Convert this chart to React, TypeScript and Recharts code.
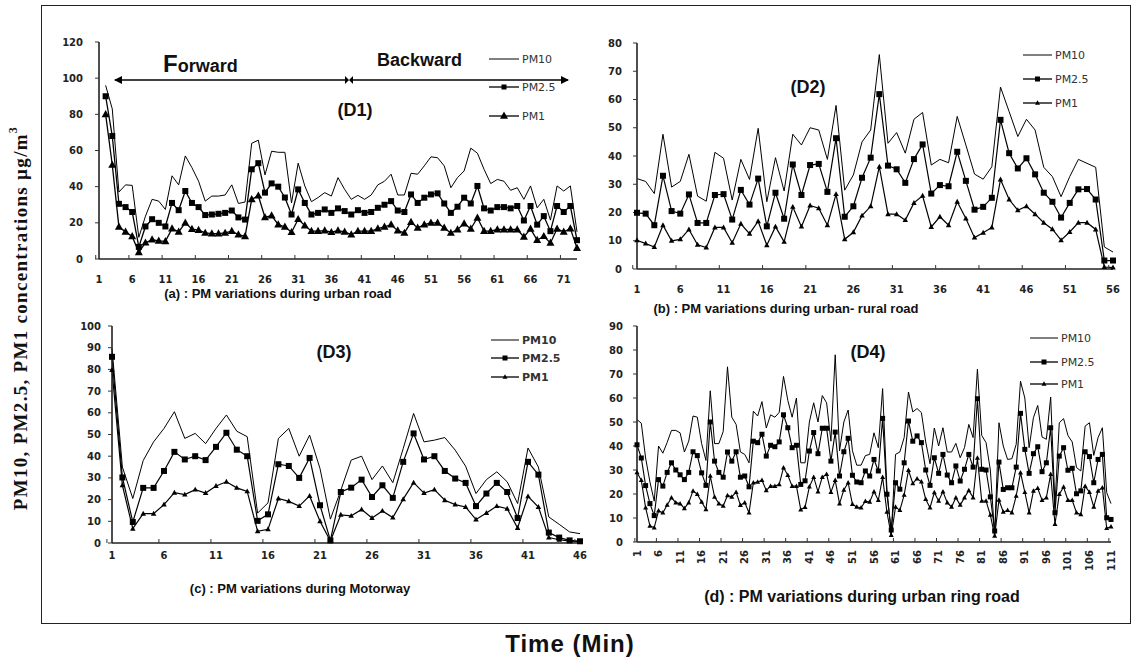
import React from 'react';
import { LineChart, Line, XAxis, YAxis } from 'recharts';

// ---------------- DATA ----------------
// (a) urban road, D1 : 73 minutes (first minute empty)
const d1Pm10 = [null, 96, 83, 37, 41, 40.7, 12, 23.7, 33, 32, 27.4, 46, 41, 57, 50.5, 43, 32, 34.8, 34.8, 35.4, 41, 30.7, 31.5, 64, 65.7, 46.5, 59.6, 59, 59, 31, 53, 40.4, 31.7, 34, 36.7,
  34.8, 45, 38.5, 33, 35.2, 33, 35.4, 41, 43, 46.9, 35.4, 35.4, 47.4, 46.9, 51.5, 56.5, 56, 51.5, 39.4, 45, 48.7, 61.3, 58.5, 49.6, 41.7, 44, 43, 38, 39.4, 33, 40.4, 28.3, 33, 21.5, 40.4, 37.6, 40.4, 15];
const d1Pm25 = [null, 90, 68, 30.5, 28.7, 26, 6.7, 18, 22, 20, 18, 31, 27, 37.6, 31, 28.7, 24.3, 24.6, 25, 25.5, 26.8, 23, 21.8, 49.6, 53, 36.7, 41.8, 40, 34, 24.6, 38.5, 31, 24.6, 25.5, 27.4,
  25.5, 28, 26.5, 24.6, 27, 25.5, 26, 28.3, 30, 32, 26.8, 26, 35.7, 31, 33.9, 35.7, 36.3, 30.7, 25.5, 28.9, 33.9, 30.7, 40.4, 28, 26.8, 28.7, 28.7, 28, 29.3, 21.3, 29.3, 19, 23.7, 15.4, 29.3, 26, 29.3, 10.4];
const d1Pm1 = [null, 80, 52, 17.8, 15, 12.5, 3.7, 9, 10.7, 10, 9.8, 16.8, 15, 20, 16.5, 16, 14.4, 14, 14, 14.4, 15.4, 13.5, 12.5, 33, 35, 23, 24, 19, 17.8, 14.8, 22, 18.5, 15.4, 15.4, 15.7,
  14.8, 15.7, 15, 13.5, 15.4, 15.4, 15.4, 16.8, 17.8, 19, 15.7, 14.4, 20.4, 17.2, 19, 20, 20, 17.2, 14.4, 16.3, 19.6, 16.7, 22.8, 15.4, 15.4, 16.3, 16.3, 16.3, 16.3, 12.2, 16.7, 10.4, 12.6, 8.9, 16.7, 15, 16.8, 6];

// (b) urban-rural road, D2 : 56 minutes
const d2Pm10 = [32, 31, 26.7, 47.7, 29, 31, 40.6, 25.8, 24, 41.3, 39.2, 24.4, 38.8, 31.7, 49.8, 23.8, 39.4, 27.6, 47.7, 43.9, 50, 49.2, 38.8, 57.9, 27.9, 33.3, 45, 49.2,
  75.9, 44.5, 48.3, 41, 53, 55.4, 36.8, 38.8, 37.6, 54, 43.9, 33.6, 31.8, 36.2, 64.4, 55.7, 46.9, 53, 49.2, 36, 32.7, 25.6, 32.7, 38.8, 37.4, 36, 7.8, 6];
const d2Pm25 = [19.9, 19.6, 15.5, 33, 20.5, 19.6, 26.4, 16.3, 16.3, 26.2, 26.5, 17.5, 28, 22.8, 32, 15.1, 27, 17.8, 37, 26.2, 36.8, 37.2, 27.3, 46.3, 18.5, 22.2, 32.3, 39.4,
  61.9, 36.6, 35.3, 30.5, 38.9, 44.1, 26.7, 29.7, 29.3, 41.5, 31.2, 21, 22, 25.2, 52.8, 41, 35.6, 39.2, 33.5, 27, 23.8, 18.2, 23.4, 28.2, 28.3, 24.6, 3, 3];
const d2Pm1 = [10.2, 9, 7.8, 15.5, 10, 10.5, 14, 8.6, 7.6, 14.7, 14.7, 9.3, 16, 12.5, 16.9, 8.4, 15, 9.6, 22, 15, 22.5, 21.5, 15.5, 26.5, 10.5, 13, 18.9, 22.2,
  36.2, 19.4, 19.4, 17.3, 23.4, 25.9, 14.9, 18.5, 15.5, 23.8, 17.9, 11.1, 12.8, 14.7, 31.7, 24.6, 20.8, 22.2, 19.4, 16.4, 14.1, 10.2, 13.1, 16.4, 16.4, 14, 0.7, 0.5];

// (c) motorway, D3 : 46 minutes
const d3Pm10 = [89.7, 35, 20.5, 38, 46.6, 52.8, 60.5, 48.2, 50.5, 45.8, 52.8, 59, 51.5, 49, 13.8, 18.5, 48.2, 52.8, 40, 49.7, 34.3,
  11, 24.3, 38.2, 40, 29.2, 35.5, 27.8, 43.5, 59.7, 46.6, 47.4, 48.6, 42.8, 35.4, 22.8, 29.2, 32.8, 28.2, 18.2, 43.8, 35, 12, 8.6, 5.1, 4.3];
const d3Pm25 = [85.8, 30.2, 9.7, 25.4, 25.4, 33.2, 42, 38.5, 40, 38.2, 44.3, 50.8, 43, 40, 10.2, 13.2, 36.3, 35.5, 30, 39.2, 17.4,
  1.2, 23.5, 25.5, 29.2, 21.2, 26.6, 20.8, 37.4, 50.5, 38.5, 40, 33.2, 29.7, 27.7, 17, 22.8, 27.7, 23.5, 11.5, 37.4, 31.5, 4.8, 2.5, 1.2, 0.8];
const d3Pm1 = [79.7, 26.6, 6.6, 13.5, 13.5, 17.7, 23.2, 22.3, 24.6, 23, 26.3, 28.2, 25.4, 23.8, 5.4, 6.3, 20.5, 19.2, 17, 21.7, 10,
  0.9, 13, 12.5, 15.4, 11.5, 14.8, 11.7, 20.2, 27.8, 23, 24.6, 19.7, 17.7, 16.6, 10.8, 13.8, 17, 15.8, 6.9, 21.5, 16.6, 2.5, 1.5, 0.9, 0.6];

// (d) urban ring road, D4 : 111 minutes
const d4Pm10 = [51, 49.5, 35, 25, 17, 40, 37, 41.5, 46.5, 46.5, 45.5, 37.5, 42, 52.5, 52, 41, 34, 63, 41, 41, 46, 73, 52, 49, 37.5, 36.5, 33, 54.5, 52.5, 58.5,
  47.5, 53, 52, 54, 69, 59, 52, 60, 33, 33, 50, 58, 50, 61, 58, 42, 78, 38, 50, 55, 38, 32, 32, 36,
  36.5, 45.5, 39.3, 63.9, 22, 3.2, 36.5, 37.5, 43.5, 62.5, 54.2, 55.6, 53.9, 41.7, 32.6, 47.5, 40, 47.6, 37.5, 37.5, 41.1, 35.1, 39.3, 49, 43.5,
  72, 44.4, 41.4, 30, 2.8, 49.7, 40, 34.4, 34.7, 40.7, 67, 60, 39.3, 51.8, 56.9, 43.75, 42.8, 60.4, 15.7, 49.7, 51.4, 44.4, 41.7, 31, 29.6, 48.3, 49.7, 36.1, 43.5, 47.6, 20.6, 16];
const d4Pm25 = [40.5, 35, 23.5, 16, 11, 26, 23.3, 29, 33, 30, 28, 26, 29, 37.6, 36, 28.8, 23.6, 50, 33.7, 29, 27, 37.5, 33.7, 37.6, 27, 27.5, 23, 42, 41.4, 44.9,
  35.8, 40.3, 39.7, 41.7, 53, 47.6, 39.3, 40.3, 24, 25.5, 37.9, 45.6, 36.8, 47.4, 47.4, 33.7, 45.8, 27.5, 37.6, 43.2, 27.8, 25, 24.7, 29.6,
  27.5, 34.4, 29.6, 51.5, 19.9, 5, 24.7, 22, 33, 50.4, 42, 44.2, 41.4, 30, 23.6, 35.1, 28.6, 36.5, 27.9, 24.7, 31.7, 25.4, 30.3, 36.5, 31.2,
  59.7, 30.3, 30, 18.8, 4.6, 33.3, 21.9, 22.6, 22.6, 31.2, 53.6, 38.6, 28.6, 36.8, 39.7, 29.3, 33, 47.6, 12.2, 35.8, 39.3, 29.9, 30.7, 20.1, 21.3, 37.6, 35.6, 24.7, 34.4, 36.5, 10.1, 9.4];
const d4Pm1 = [29, 25.7, 14.3, 6.7, 6, 13, 12.2, 15.4, 18.5, 16.4, 16, 14, 16.4, 21.3, 19.9, 16.7, 13.6, 27.5, 18.8, 16, 15, 19.4, 18.8, 20.8, 15.3, 16.4, 12.2, 24.7, 25, 25.7,
  21.5, 23.3, 23.3, 24, 31, 27.8, 23.3, 23.3, 13.5, 14.5, 23, 27, 21, 27, 28.2, 20.8, 25.7, 16, 21.7, 24.7, 15.7, 14.6, 14.3, 17,
  16.7, 21, 17.4, 27, 12.5, 2.8, 14.6, 13.2, 19.6, 29.9, 24.4, 26.4, 25.1, 17.8, 14.3, 20.6, 17.1, 21, 16.4, 14.6, 18.5, 15.4, 18.5, 21.5, 18.5,
  35, 17.1, 17.1, 11.25, 2.5, 17.5, 12.5, 13.2, 12.2, 19.2, 28.9, 20.8, 12.2, 21.3, 22.4, 17.4, 18.5, 28.2, 7.4, 19.9, 22.9, 17.4, 17.4, 12.2, 11.5, 23.3, 20.8, 14.6, 21.3, 22.6, 5.7, 6.4];

const d1YTicks = [0, 20, 40, 60, 80, 100, 120];
const d2YTicks = [0, 10, 20, 30, 40, 50, 60, 70, 80];
const d3YTicks = [0, 10, 20, 30, 40, 50, 60, 70, 80, 90, 100];
const d4YTicks = [0, 10, 20, 30, 40, 50, 60, 70, 80, 90];

const seriesNames = ['PM10', 'PM2.5', 'PM1'];
const subtitles = [
  '(a) : PM variations during urban road',
  '(b) : PM variations during urban- rural road',
  '(c) : PM variations during Motorway',
  '(d) : PM variations during  urban ring road',
];
const yLabel = 'PM10, PM2.5, PM1 concentrations  \u00b5g/m';
const xLabel = 'Time (Min)';

const buildRows = (pm10, pm25, pm1) =>
  pm10.map((v, i) => ({ t: i + 1, pm10: v, pm25: pm25[i], pm1: pm1[i] }));

// ---------------- RENDER HELPERS ----------------
const TICK_FONT = "'DejaVu Sans', Verdana, sans-serif";
const ARIAL = "'Liberation Sans', Arial, sans-serif";
const NARROW = "'Liberation Sans Narrow', 'Arial Narrow', 'Liberation Sans', Arial, sans-serif";

const squareDot = (s) => (p) => {
  const { cx, cy, index } = p;
  if (cx == null || cy == null || p.value == null || (Array.isArray(p.value) && p.value[1] == null)) return <g key={`s${index}`} />;
  return <rect key={`s${index}`} x={cx - s / 2} y={cy - s / 2} width={s} height={s} fill="#000" />;
};
const triDot = (s) => (p) => {
  const { cx, cy, index } = p;
  if (cx == null || cy == null || p.value == null || (Array.isArray(p.value) && p.value[1] == null)) return <g key={`t${index}`} />;
  const h = s * 0.9;
  return (
    <path key={`t${index}`} d={`M${cx},${cy - h * 0.6} L${cx + s / 2},${cy + h * 0.4} L${cx - s / 2},${cy + h * 0.4} Z`} fill="#000" />
  );
};

const makeXTick = (band, margin, rotated) => (props) => {
  const { x, y, payload } = props;
  const axisY = y - margin;
  return (
    <g>
      <line x1={x - band / 2} x2={x - band / 2} y1={axisY} y2={axisY - 4} stroke="#333" strokeWidth={1} />
      {rotated ? (
        <text
          transform={`rotate(-90 ${x} ${y})`}
          x={x}
          y={y}
          textAnchor="end"
          dominantBaseline="central"
          fontSize={10}
          fontWeight={700}
          fontFamily={TICK_FONT}
          fill="#222"
        >
          {payload.value}
        </text>
      ) : (
        <text x={x} y={y} dy="0.75em" textAnchor="middle" fontSize={10} fontWeight={700} fontFamily={TICK_FONT} fill="#222">
          {payload.value}
        </text>
      )}
    </g>
  );
};

const AXIS_STROKE = { stroke: '#222', strokeWidth: 1.6 };

function Panel({ px, py, pw, ph, rows, yMax, yTicks, xh, xMargin, yMargin, rotated, sq, tri, lw }) {
  const band = pw / rows.length;
  return (
    <div style={{ position: 'absolute', left: px - 50, top: py - 10 }}>
      <LineChart width={pw + 60} height={ph + 10 + xh} data={rows} margin={{ top: 10, right: 10, left: 10, bottom: 0 }}>
        <XAxis
          dataKey="t"
          interval={4}
          height={xh}
          tickSize={0}
          tickMargin={xMargin}
          tickLine={false}
          axisLine={AXIS_STROKE}
          tick={makeXTick(band, xMargin, rotated)}
        />
        <XAxis xAxisId="top" orientation="top" dataKey="t" height={0} tick={false} tickLine={false} axisLine={AXIS_STROKE} />
        <YAxis
          type="number"
          domain={[0, yMax]}
          ticks={yTicks}
          interval={0}
          width={40}
          tickSize={4}
          tickMargin={yMargin}
          tickLine={{ stroke: '#333' }}
          axisLine={AXIS_STROKE}
          tick={{ fontSize: 10, fontWeight: 700, fontFamily: TICK_FONT, fill: '#222' }}
        />
        <YAxis yAxisId="r" orientation="right" type="number" domain={[0, yMax]} width={0} tick={false} tickLine={false} axisLine={AXIS_STROKE} />
        <Line dataKey="pm10" stroke="#000" strokeWidth={1} dot={false} isAnimationActive={false} />
        <Line dataKey="pm25" stroke="#000" strokeWidth={lw} dot={squareDot(sq)} isAnimationActive={false} />
        <Line dataKey="pm1" stroke="#000" strokeWidth={lw} dot={triDot(tri)} isAnimationActive={false} />
      </LineChart>
    </div>
  );
}

function LegendBlock({ x1, x2, ys, fontSize, bold, sq, tri }) {
  const mid = (x1 + x2) / 2;
  return (
    <g>
      {ys.map((y, i) => (
        <g key={i}>
          <line x1={x1} x2={x2} y1={y} y2={y} stroke="#000" strokeWidth={i === 0 ? 1 : 1.3} />
          {i === 1 && <rect x={mid - sq / 2} y={y - sq / 2} width={sq} height={sq} fill="#000" />}
          {i === 2 && (
            <path d={`M${mid},${y - tri * 0.55} L${mid + tri / 2},${y + tri * 0.35} L${mid - tri / 2},${y + tri * 0.35} Z`} fill="#000" />
          )}
          <text x={x2 + 3} y={y} dy="0.36em" fontSize={fontSize} fontWeight={bold ? 700 : 400} fontFamily={TICK_FONT} fill="#333">
            {seriesNames[i]}
          </text>
        </g>
      ))}
    </g>
  );
}

export default function App() {
  const r1 = buildRows(d1Pm10, d1Pm25, d1Pm1);
  const r2 = buildRows(d2Pm10, d2Pm25, d2Pm1);
  const r3 = buildRows(d3Pm10, d3Pm25, d3Pm1);
  const r4 = buildRows(d4Pm10, d4Pm25, d4Pm1);

  const arrowY = 80;
  return (
    <div style={{ position: 'absolute', left: 0, top: 0, width: 1140, height: 657, background: '#fff', overflow: 'hidden' }}>
      <Panel px={99} py={42} pw={478} ph={217} rows={r1} yMax={120} yTicks={d1YTicks} xh={30} xMargin={16} yMargin={12} sq={6} tri={8} lw={1.3} />
      <Panel px={637} py={43} pw={476} ph={226} rows={r2} yMax={80} yTicks={d2YTicks} xh={30} xMargin={16} yMargin={11} sq={6} tri={5.5} lw={1.2} />
      <Panel px={112} py={326} pw={468} ph={217} rows={r3} yMax={100} yTicks={d3YTicks} xh={30} xMargin={8} yMargin={7} sq={6} tri={5.5} lw={1.2} />
      <Panel px={637} py={326} pw={474} ph={216} rows={r4} yMax={90} yTicks={d4YTicks} xh={40} xMargin={8} yMargin={10} rotated sq={5} tri={5} lw={1.1} />

      <svg width={1140} height={657} style={{ position: 'absolute', left: 0, top: 0, pointerEvents: 'none' }}>
        <defs>
          <marker id="ah" markerWidth="8" markerHeight="8" refX="7" refY="4" orient="auto" markerUnits="userSpaceOnUse">
            <path d="M0,0 L8,4 L0,8 Z" fill="#000" />
          </marker>
        </defs>
        <rect x={41.5} y={5.5} width={1089} height={618} fill="none" stroke="#222" strokeWidth={1} />

        <text
          transform="rotate(-90 20 318)"
          x={20}
          y={318}
          textAnchor="middle"
          dominantBaseline="central"
          fontSize={19}
          letterSpacing={1.3}
          fontWeight={700}
          fontFamily="'Liberation Serif', 'Times New Roman', serif"
          fill="#111"
        >
          {yLabel}
          <tspan dy={-7} fontSize={12}>3</tspan>
        </text>
        <text x={570} y={652} textAnchor="middle" fontSize={24} letterSpacing={1} fontWeight={700} fontFamily={NARROW} fill="#111">
          {xLabel}
        </text>

        <text x={278} y={298} textAnchor="middle" fontSize={13} fontWeight={700} fontFamily={ARIAL} fill="#111">{subtitles[0]}</text>
        <text x={786} y={313} textAnchor="middle" fontSize={13} fontWeight={700} fontFamily={ARIAL} fill="#111">{subtitles[1]}</text>
        <text x={300} y={593} textAnchor="middle" fontSize={13} fontWeight={700} fontFamily={NARROW} fill="#111">{subtitles[2]}</text>
        <text x={862} y={602} textAnchor="middle" fontSize={16} fontWeight={700} fontFamily={NARROW} fill="#111">{subtitles[3]}</text>

        <text x={355} y={110} dy="0.36em" textAnchor="middle" fontSize={18} fontWeight={700} fontFamily={ARIAL} fill="#111">(D1)</text>
        <text x={808} y={87} dy="0.36em" textAnchor="middle" fontSize={18} fontWeight={700} fontFamily={ARIAL} fill="#111">(D2)</text>
        <text x={334} y={352} dy="0.36em" textAnchor="middle" fontSize={18} fontWeight={700} fontFamily={ARIAL} fill="#111">(D3)</text>
        <text x={868} y={352} dy="0.36em" textAnchor="middle" fontSize={18} fontWeight={700} fontFamily={ARIAL} fill="#111">(D4)</text>

        {/* Forward / Backward annotation */}
        <line x1={345} y1={arrowY} x2={115} y2={arrowY} stroke="#000" strokeWidth={1.5} markerEnd="url(#ah)" />
        <line x1={353} y1={arrowY} x2={568} y2={arrowY} stroke="#000" strokeWidth={1.5} markerEnd="url(#ah)" />
        <path d={`M345,${arrowY - 4} L353,${arrowY + 4} L353,${arrowY - 4} L345,${arrowY + 4} Z`} fill="#000" />
        <text x={163} y={72} fontWeight={700} fontFamily={ARIAL} fill="#111">
          <tspan fontSize={24}>F</tspan>
          <tspan fontSize={18}>orward</tspan>
        </text>
        <text x={377} y={66} fontSize={18} fontWeight={700} fontFamily={ARIAL} fill="#111">Backward</text>

        <LegendBlock x1={489} x2={519} ys={[59, 87, 116]} fontSize={11} sq={5} tri={8} />
        <LegendBlock x1={1023} x2={1052} ys={[55, 79, 103]} fontSize={11} sq={5} tri={5} />
        <LegendBlock x1={491} x2={519} ys={[340, 358, 377]} fontSize={11} bold sq={5} tri={5} />
        <LegendBlock x1={1030} x2={1058} ys={[338, 362, 384]} fontSize={11} sq={5} tri={5} />
      </svg>
    </div>
  );
}
